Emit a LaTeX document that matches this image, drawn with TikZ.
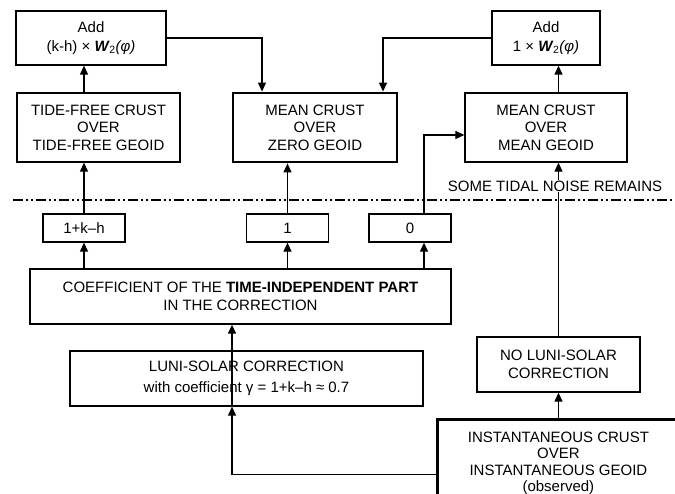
\documentclass[tikz,border=0pt]{standalone}
\usepackage{fontspec}
\setmainfont{Liberation Sans}
\usetikzlibrary{arrows.meta,positioning}
\newcommand\Wtwo{\textbf{\textit{W}}\textsubscript{\kern-.5pt 2}}

\begin{document}
\begin{tikzpicture}[x=1pt,y=-1pt,>={Triangle[length=9pt,width=8pt]},
  box/.style={draw,line width=1.3pt,inner sep=0pt,align=center,
              font=\fontsize{15}{17.5}\selectfont},
  heavy/.style={box,line width=2.8pt},
  coef/.style={box,minimum width=82pt,minimum height=28pt},
  flow/.style={->,line width=1.2pt}]
\useasboundingbox (0,0) rectangle (675,494);
\clip (0,0) rectangle (675,494);
\node[box,minimum width=150pt,minimum height=54pt] (addkh) at (91,38) {Add\\[2pt](k-h) × \Wtwo\textit{(φ)}};
\node[box,minimum width=163pt,minimum height=69pt] (tidefree) at (98.5,127.5) {TIDE-FREE CRUST\\OVER\\TIDE-FREE GEOID};
\node[heavy,minimum width=164pt,minimum height=69pt] (meanzero) at (315,127.5) {MEAN CRUST\\OVER\\ZERO GEOID};
\node[box,minimum width=108pt,minimum height=54pt] (addone) at (546,38) {Add\\[2pt]1 × \Wtwo\textit{(φ)}};
\node[box,minimum width=162pt,minimum height=69pt] (meanmean) at (546,127.5) {MEAN CRUST\\OVER\\MEAN GEOID};
\node[coef] (gamma) at (84,228) {1+k–h};
\node[coef] (one) at (287.5,228) {1};
\node[coef] (zero) at (410,228) {0};
\node[box,minimum width=421pt,minimum height=55pt] (coeff) at (240.5,296.5) {COEFFICIENT OF THE \textbf{TIME-INDEPENDENT PART}\\IN THE CORRECTION};
\node[box,minimum width=353pt,minimum height=55pt] (luni) at (246.5,378.5) {LUNI-SOLAR CORRECTION\\[3pt]with coefficient γ = 1+k–h ≈ 0.7};
\node[box,minimum width=163pt,minimum height=55pt] (noluni) at (558.5,364.5) {NO LUNI-SOLAR\\CORRECTION};
\node[heavy,minimum width=242pt,minimum height=88pt,anchor=north west] (inst) at (436,418) {INSTANTANEOUS CRUST\\[-1pt]OVER\\[-1pt]INSTANTANEOUS GEOID\\[-1pt](observed)};
% separator
\coordinate (sepL) at (13,200);
\coordinate (sepR) at (675,200);
\draw[line width=1.2pt,dash pattern=on 10pt off 3pt on 2pt off 3pt on 2pt off 3pt] (sepL) -- (sepR);
\coordinate (zerox) at ([xshift=14pt]zero.north);
\coordinate (lunix) at ([xshift=-14.5pt]luni.south);
\draw[flow] (gamma.north) -- (tidefree.south -| gamma.north);
\draw[flow] (tidefree.north -| gamma.north) -- (addkh.south -| gamma.north);
\draw[flow] (addkh.east) -| ([xshift=-53pt]meanzero.north);
\draw[flow] (addone.west) -| ([xshift=68pt]meanzero.north);
\draw[flow] (one.north) -- (meanzero.south -| one.north);
\draw[flow] (zerox) |- ([yshift=-7.5pt]meanmean.west);
\draw[flow] (noluni.north) -- (meanmean.south -| noluni.north);
\draw[flow] (meanmean.north -| noluni.north) -- (addone.south -| noluni.north);
\draw[flow] (coeff.north -| gamma.north) -- (gamma.south);
\draw[flow] (coeff.north -| one.north) -- (one.south);
\draw[flow] (coeff.north -| zerox) -- (zero.south -| zerox);
\draw[flow] (lunix) -- (coeff.south -| lunix);
\draw[flow] ([yshift=-11pt]inst.west) -| (lunix);
\draw[flow] (inst.north -| noluni.south) -- (noluni.south);
\node[fill=white,inner sep=1pt,font=\fontsize{15}{17.5}\selectfont] (noise) at (555,186) {SOME TIDAL NOISE REMAINS};
\end{tikzpicture}
\end{document}
